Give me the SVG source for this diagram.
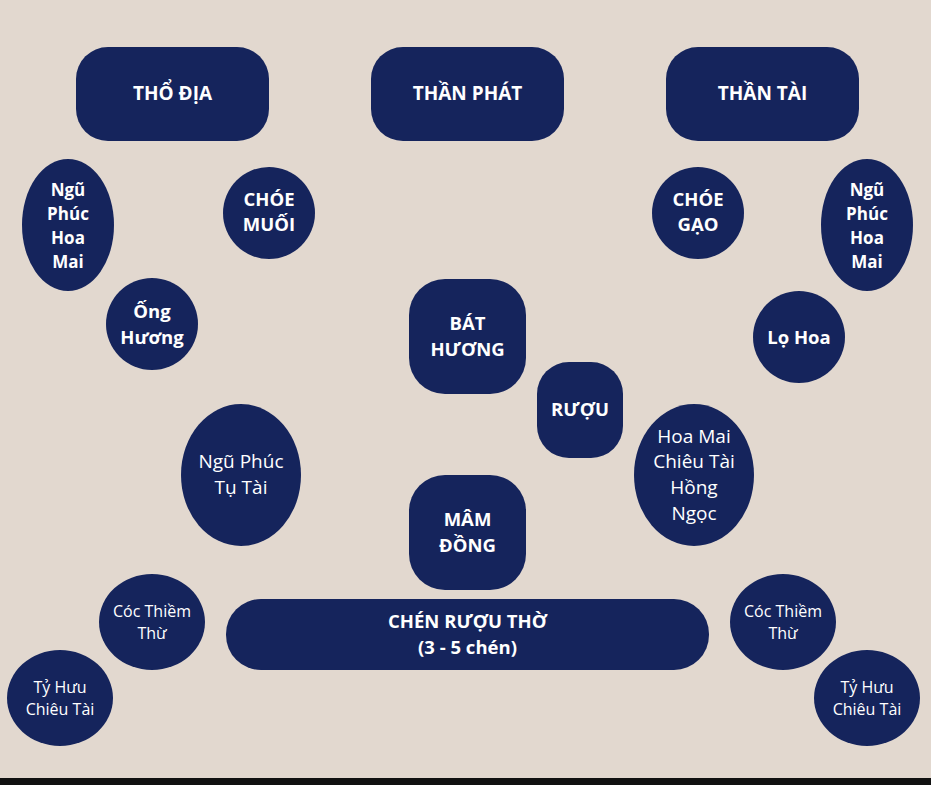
<svg xmlns="http://www.w3.org/2000/svg" width="931" height="785" viewBox="0 0 931 785">
<style>
.n{fill:#15245C}
text{fill:#FFFFFF;font-family:"Open Sans","Noto Sans","Liberation Sans",sans-serif;text-anchor:middle}
.b{font-weight:700;font-size:18.5px}
.t{font-weight:700;font-size:19px}
.bs{font-weight:700;font-size:17px}
.c{font-weight:700;font-size:18.5px}
.r{font-weight:400;font-size:19px}
.s{font-weight:400;font-size:16px}
</style>
<rect x="0" y="0" width="931" height="785" fill="#E2D8CF"/>
<rect x="0" y="778" width="931" height="7" fill="#111111"/>
<g id="connectors"></g>
<g id="tho-dia"><rect class="n" x="76" y="47" width="193" height="94" rx="32"/><text class="t" x="172.5" y="100">THỔ ĐỊA</text></g>
<g id="than-phat"><rect class="n" x="371" y="47" width="193" height="94" rx="32"/><text class="t" x="467.5" y="100">THẦN PHÁT</text></g>
<g id="than-tai"><rect class="n" x="666" y="47" width="193" height="94" rx="32"/><text class="t" x="762.5" y="100">THẦN TÀI</text></g>
<g id="ngu-phuc-hoa-mai-l"><ellipse class="n" cx="68" cy="225" rx="46" ry="66"/><text class="bs" x="68" y="196">Ngũ</text><text class="bs" x="68" y="220">Phúc</text><text class="bs" x="68" y="244">Hoa</text><text class="bs" x="68" y="268">Mai</text></g>
<g id="choe-muoi"><circle class="n" cx="269" cy="213" r="46"/><text class="b" x="269" y="206">CHÓE</text><text class="b" x="269" y="231">MUỐI</text></g>
<g id="ong-huong"><circle class="n" cx="152" cy="324" r="46"/><text class="b" x="152" y="318">Ống</text><text class="b" x="152" y="344">Hương</text></g>
<g id="choe-gao"><circle class="n" cx="698" cy="213" r="46"/><text class="b" x="698" y="206">CHÓE</text><text class="b" x="698" y="231">GẠO</text></g>
<g id="ngu-phuc-hoa-mai-r"><ellipse class="n" cx="867" cy="225" rx="46" ry="66"/><text class="bs" x="867" y="196">Ngũ</text><text class="bs" x="867" y="220">Phúc</text><text class="bs" x="867" y="244">Hoa</text><text class="bs" x="867" y="268">Mai</text></g>
<g id="lo-hoa"><circle class="n" cx="799" cy="337" r="46"/><text class="b" x="799" y="344">Lọ Hoa</text></g>
<g id="bat-huong"><rect class="n" x="409" y="279" width="117" height="115" rx="36"/><text class="b" x="467.5" y="330">BÁT</text><text class="b" x="467.5" y="356">HƯƠNG</text></g>
<g id="ruou"><rect class="n" x="537" y="362" width="86" height="96" rx="32"/><text class="b" x="580" y="416">RƯỢU</text></g>
<g id="mam-dong"><rect class="n" x="409" y="475" width="117" height="115" rx="36"/><text class="b" x="467.5" y="526">MÂM</text><text class="b" x="467.5" y="552">ĐỒNG</text></g>
<g id="ngu-phuc-tu-tai"><ellipse class="n" cx="241" cy="475" rx="60" ry="71"/><text class="r" x="241" y="468">Ngũ Phúc</text><text class="r" x="241" y="494">Tụ Tài</text></g>
<g id="hoa-mai-chieu-tai"><ellipse class="n" cx="694" cy="475" rx="60" ry="71"/><text class="r" x="694" y="443">Hoa Mai</text><text class="r" x="694" y="468">Chiêu Tài</text><text class="r" x="694" y="494">Hồng</text><text class="r" x="694" y="520">Ngọc</text></g>
<g id="chen-ruou-tho"><rect class="n" x="226" y="599" width="483" height="71" rx="35"/><text class="c" x="467.5" y="628">CHÉN RƯỢU THỜ</text><text class="c" x="467.5" y="654">(3 - 5 chén)</text></g>
<g id="coc-thiem-thu-l"><ellipse class="n" cx="152" cy="622" rx="53" ry="48"/><text class="s" x="152" y="617">Cóc Thiềm</text><text class="s" x="152" y="639">Thừ</text></g>
<g id="ty-huu-l"><ellipse class="n" cx="60" cy="698" rx="53" ry="48"/><text class="s" x="60" y="693">Tỷ Hưu</text><text class="s" x="60" y="715">Chiêu Tài</text></g>
<g id="coc-thiem-thu-r"><ellipse class="n" cx="783" cy="622" rx="53" ry="48"/><text class="s" x="783" y="617">Cóc Thiềm</text><text class="s" x="783" y="639">Thừ</text></g>
<g id="ty-huu-r"><ellipse class="n" cx="867" cy="698" rx="53" ry="48"/><text class="s" x="867" y="693">Tỷ Hưu</text><text class="s" x="867" y="715">Chiêu Tài</text></g>
</svg>
